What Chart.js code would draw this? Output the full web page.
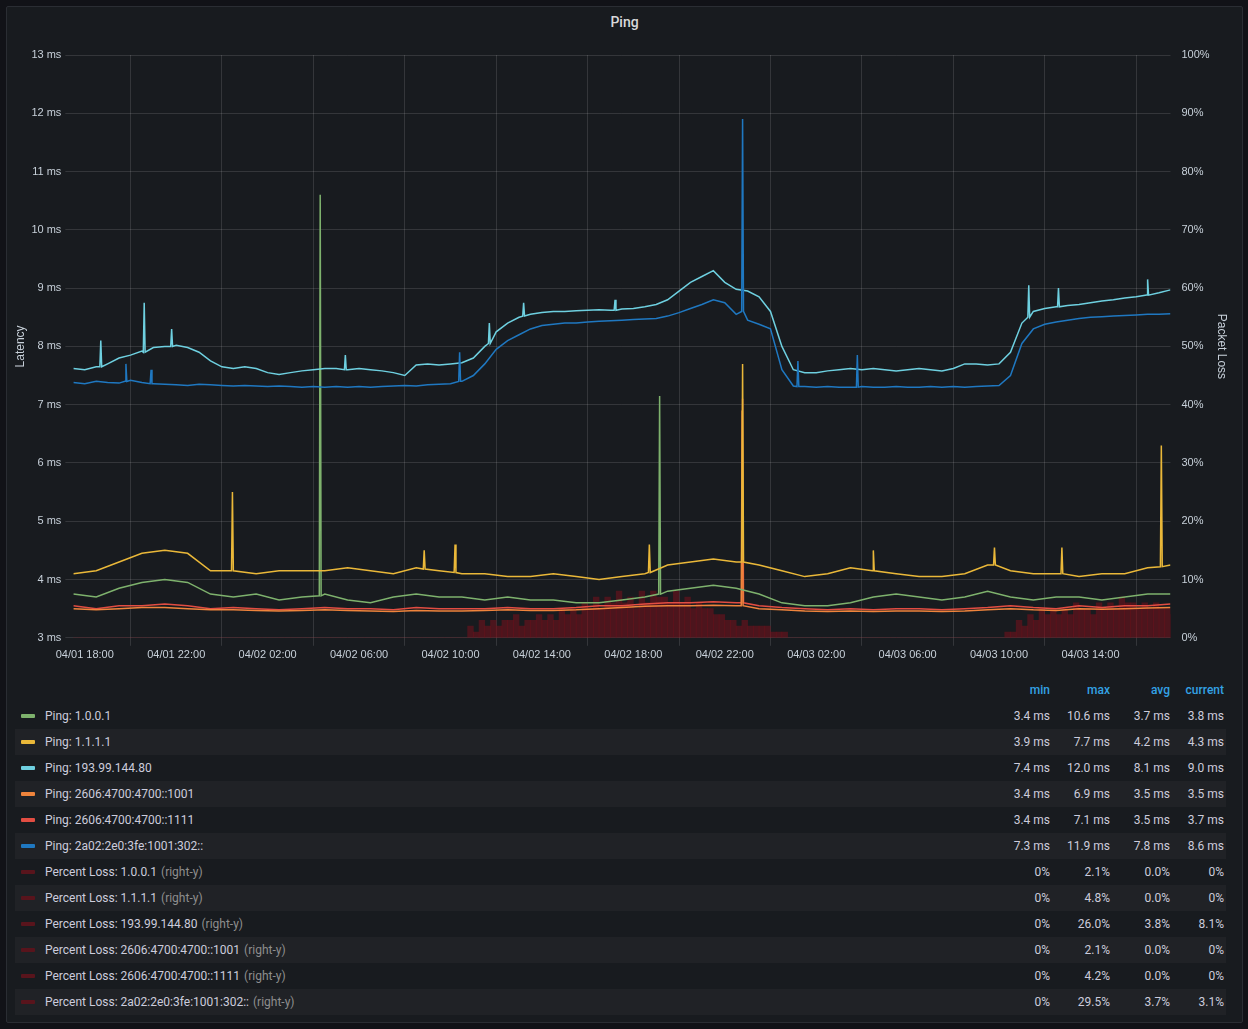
<!DOCTYPE html>
<html><head><meta charset="utf-8">
<script src="https://cdn.jsdelivr.net/npm/chart.js@4"></script>
<style>
body{margin:0;background:#111217;font-family:Roboto,"Noto Sans",sans-serif;color:#ccccdc;}
#panel{position:absolute;left:6px;top:6px;width:1235px;height:1015px;background:#181b1f;border:1px solid #2a2d33;border-radius:2px;}
#title{position:absolute;top:7px;width:100%;text-align:center;font-size:14px;font-weight:500;color:#d8d9da;}
#wrap{position:absolute;left:0;top:32px;width:1235px;height:632px;}
#legend{position:absolute;left:8px;top:670px;width:1211px;font-size:12px;}
.row{display:flex;height:26px;align-items:center;}
.row.alt{background:#202226;}
.name{flex:1;display:flex;align-items:center;}
.sw{width:14px;height:4px;border-radius:1px;margin:0 10px 0 6px;}
.c{width:60px;text-align:right;}
.c.cur{width:54px;padding-right:2px;}
.hd .c{color:#33a2e5;font-weight:500;}
.dim{color:#8e8e8e;margin-left:4px;}
</style></head><body>
<div id="panel"><div id="title">Ping</div><div id="wrap"><canvas id="cv"></canvas></div><div id="legend"></div></div>
<script>
// hours since 04/01 00:00
const blue30=[7.38,7.36,7.40,7.38,7.37,7.42,7.38,7.36,7.35,7.34,7.33,7.35,7.34,7.33,7.32,7.33,7.32,7.31,7.32,7.31,7.30,7.31,7.30,7.31,7.30,7.31,7.30,7.31,7.32,7.33,7.32,7.34,7.35,7.36,7.40,7.50,7.70,7.95,8.10,8.20,8.30,8.36,8.38,8.40,8.40,8.42,8.43,8.44,8.45,8.46,8.47,8.48,8.52,8.58,8.65,8.72,8.80,8.75,8.55,8.45,8.38,8.30,7.60,7.32,7.31,7.30,7.31,7.30,7.30,7.31,7.30,7.30,7.31,7.30,7.30,7.31,7.30,7.31,7.30,7.31,7.32,7.33,7.50,8.05,8.30,8.38,8.42,8.45,8.48,8.50,8.51,8.52,8.53,8.54,8.55,8.55,8.56];
const cyan30=[7.62,7.60,7.65,7.70,7.80,7.85,7.92,7.98,8.00,8.02,7.98,7.90,7.75,7.65,7.62,7.65,7.62,7.55,7.52,7.55,7.58,7.60,7.62,7.62,7.60,7.62,7.60,7.58,7.55,7.50,7.68,7.70,7.68,7.70,7.72,7.80,8.00,8.25,8.40,8.50,8.55,8.58,8.60,8.60,8.61,8.62,8.63,8.62,8.64,8.65,8.68,8.72,8.80,8.95,9.10,9.20,9.30,9.10,8.98,8.95,8.85,8.60,8.00,7.60,7.55,7.55,7.58,7.60,7.62,7.60,7.62,7.60,7.58,7.60,7.62,7.60,7.58,7.62,7.70,7.70,7.68,7.70,7.90,8.40,8.60,8.65,8.68,8.70,8.72,8.75,8.78,8.80,8.83,8.85,8.88,8.92,8.97];
const yellow60=[4.10,4.15,4.30,4.45,4.50,4.45,4.15,4.15,4.10,4.15,4.15,4.15,4.20,4.15,4.10,4.20,4.15,4.10,4.10,4.05,4.05,4.10,4.05,4.00,4.05,4.10,4.25,4.30,4.35,4.30,4.25,4.15,4.05,4.10,4.20,4.15,4.10,4.05,4.05,4.10,4.25,4.15,4.10,4.10,4.05,4.10,4.10,4.20,4.25];
const green60=[3.75,3.70,3.85,3.95,4.00,3.95,3.75,3.70,3.75,3.65,3.70,3.75,3.65,3.60,3.70,3.75,3.70,3.70,3.65,3.70,3.65,3.65,3.60,3.60,3.65,3.70,3.80,3.85,3.90,3.85,3.75,3.60,3.55,3.55,3.60,3.70,3.75,3.70,3.65,3.70,3.80,3.70,3.65,3.70,3.70,3.65,3.70,3.75,3.75];
const red60=[3.55,3.50,3.55,3.55,3.58,3.55,3.50,3.52,3.50,3.48,3.50,3.52,3.50,3.50,3.48,3.52,3.50,3.50,3.50,3.52,3.50,3.50,3.52,3.55,3.55,3.58,3.60,3.60,3.62,3.60,3.55,3.52,3.50,3.48,3.50,3.48,3.50,3.50,3.48,3.50,3.52,3.55,3.52,3.50,3.55,3.52,3.55,3.55,3.58];
const orange60=[3.50,3.48,3.50,3.52,3.52,3.50,3.48,3.48,3.47,3.46,3.47,3.48,3.47,3.46,3.45,3.47,3.46,3.46,3.47,3.48,3.47,3.47,3.48,3.50,3.52,3.54,3.55,3.55,3.56,3.55,3.50,3.48,3.46,3.45,3.46,3.45,3.46,3.46,3.45,3.46,3.48,3.50,3.48,3.47,3.50,3.49,3.50,3.51,3.52];
// spikes: [hour, peak, base]
const blueSpikes=[[19.8,7.7,7.4],[20.9,7.6,7.36],[34.4,7.9,7.4],[46.78,11.9,8.6],[49.2,7.75,7.31],[51.8,7.85,7.3]];
const cyanSpikes=[[18.7,8.1,7.65],[20.6,8.75,7.9],[21.8,8.3,8.0],[29.4,7.85,7.6],[35.7,8.4,8.05],[37.2,8.75,8.52],[41.2,8.8,8.62],[59.3,9.05,8.5],[60.6,9.0,8.68],[64.5,9.15,8.88]];
const yellowSpikes=[[24.46,5.5,4.15],[32.85,4.5,4.18],[34.2,4.6,4.12],[42.7,4.6,4.12],[46.78,7.7,4.3],[52.5,4.5,4.15],[57.8,4.55,4.25],[60.75,4.55,4.1],[65.1,6.3,4.22]];
const greenSpikes=[[28.3,10.6,3.72],[43.15,7.15,3.75]];
const redSpikes=[[46.78,7.1,3.6]];
const orangeSpikes=[[46.76,6.9,3.55]];
const loss193=[0,0,0,0,0,0,0,0,0,0,0,0,0,0,0,0,0,0,0,0,0,0,0,0,0,0,0,0,0,0,0,0,0,0,0,2,3,3,3,4,3,4,4,5,5,6,7,7,8,7,8,8,7,8,7,6,5,4,3,3,2,2,1,0,0,0,0,0,0,0,0,0,0,0,0,0,0,0,0,0,0,0,1,3,4,5,5,5,6,5,6,6,7,6,6,6,5];
const loss2a02=[0,0,0,0,0,0,0,0,0,0,0,0,0,0,0,0,0,0,0,0,0,0,0,0,0,0,0,0,0,0,0,0,0,0,0,1,2,2,3,2,3,3,3,4,4,5,5,6,6,5,6,7,6,6,5,5,4,3,2,2,2,1,1,0,0,0,0,0,0,0,0,0,0,0,0,0,0,0,0,0,0,0,1,2,3,4,4,4,5,4,5,5,6,5,5,5,4];
const xTicks=[18,22,26,30,34,38,42,46,50,54,58,62];

const t30=blue30.map((_,i)=>17.5+0.5*i), t60=yellow60.map((_,i)=>17.5+i);
function series(ts,vs,sp){
  const pts=ts.map((t,i)=>({x:t,y:vs[i]}));
  sp.forEach(s=>{pts.push({x:s[0]-0.04,y:s[2]},{x:s[0],y:s[1]},{x:s[0]+0.04,y:s[2]});});
  return pts.sort((a,b)=>a.x-b.x);
}
function lbl(h){const d=1+Math.floor(h/24), hh=h%24;return '04/0'+d+' '+String(hh).padStart(2,'0')+':00';}
const line=(label,c,d)=>({type:'line',label,data:d,borderColor:c,backgroundColor:c,borderWidth:1.5,pointRadius:0,tension:0,yAxisID:'y'});
const bar=(label,d)=>({type:'bar',label,data:t30.map((t,i)=>({x:t,y:d[i]})),backgroundColor:'rgba(120,16,28,0.55)',barPercentage:1,categoryPercentage:1,yAxisID:'y1'});
new Chart(document.getElementById('cv'),{
  data:{datasets:[
    line('Ping: 2a02:2e0:3fe:1001:302::','#1F78C1',series(t30,blue30,blueSpikes)),
    line('Ping: 193.99.144.80','#6ED0E0',series(t30,cyan30,cyanSpikes)),
    line('Ping: 1.1.1.1','#EAB839',series(t60,yellow60,yellowSpikes)),
    line('Ping: 1.0.0.1','#7EB26D',series(t60,green60,greenSpikes)),
    line('Ping: 2606:4700:4700::1001','#EF843C',series(t60,orange60,orangeSpikes)),
    line('Ping: 2606:4700:4700::1111','#E24D42',series(t60,red60,redSpikes)),
    bar('Percent Loss: 193.99.144.80',loss193),
    bar('Percent Loss: 2a02:2e0:3fe:1001:302::',loss2a02)
  ]},
  options:{responsive:true,maintainAspectRatio:false,animation:false,
    layout:{padding:{left:6,right:11,top:16,bottom:6}},
    plugins:{legend:{display:false},tooltip:{enabled:false}},
    scales:{
      x:{type:'linear',min:17.5,max:65.5,offset:false,
        afterBuildTicks:a=>{a.ticks=xTicks.map(v=>({value:v}));},
        ticks:{callback:v=>lbl(v),color:'#c7d0d9',font:{size:11},maxRotation:0,autoSkip:false},
        grid:{color:'rgba(255,255,255,0.12)'},border:{display:false}},
      y:{position:'left',min:3,max:13,ticks:{stepSize:1,callback:v=>v+' ms',color:'#c7d0d9',font:{size:11},padding:4},
        grid:{color:'rgba(255,255,255,0.12)'},border:{display:false},
        title:{display:true,text:'Latency',color:'#c7d0d9',font:{size:12},padding:0}},
      y1:{position:'right',min:0,max:100,ticks:{stepSize:10,callback:v=>v+'%',color:'#c7d0d9',font:{size:11}},
        grid:{display:false},border:{display:false},
        title:{display:true,text:'Packet Loss',color:'#c7d0d9',font:{size:12},padding:2}}
    }}
});
const legRows=[
 ['Ping: 1.0.0.1','#7EB26D','','3.4 ms','10.6 ms','3.7 ms','3.8 ms'],
 ['Ping: 1.1.1.1','#EAB839','','3.9 ms','7.7 ms','4.2 ms','4.3 ms'],
 ['Ping: 193.99.144.80','#6ED0E0','','7.4 ms','12.0 ms','8.1 ms','9.0 ms'],
 ['Ping: 2606:4700:4700::1001','#EF843C','','3.4 ms','6.9 ms','3.5 ms','3.5 ms'],
 ['Ping: 2606:4700:4700::1111','#E24D42','','3.4 ms','7.1 ms','3.5 ms','3.7 ms'],
 ['Ping: 2a02:2e0:3fe:1001:302::','#1F78C1','','7.3 ms','11.9 ms','7.8 ms','8.6 ms'],
 ['Percent Loss: 1.0.0.1','#58141c','(right-y)','0%','2.1%','0.0%','0%'],
 ['Percent Loss: 1.1.1.1','#58141c','(right-y)','0%','4.8%','0.0%','0%'],
 ['Percent Loss: 193.99.144.80','#58141c','(right-y)','0%','26.0%','3.8%','8.1%'],
 ['Percent Loss: 2606:4700:4700::1001','#58141c','(right-y)','0%','2.1%','0.0%','0%'],
 ['Percent Loss: 2606:4700:4700::1111','#58141c','(right-y)','0%','4.2%','0.0%','0%'],
 ['Percent Loss: 2a02:2e0:3fe:1001:302::','#58141c','(right-y)','0%','29.5%','3.7%','3.1%']];
let h='<div class="row hd"><div class="name"></div><div class="c">min</div><div class="c">max</div><div class="c">avg</div><div class="c cur">current</div></div>';
legRows.forEach((r,i)=>{h+='<div class="row'+(i%2?' alt':'')+'"><div class="name"><div class="sw" style="background:'+r[1]+'"></div>'+r[0]+(r[2]?'<span class="dim">'+r[2]+'</span>':'')+'</div><div class="c">'+r[3]+'</div><div class="c">'+r[4]+'</div><div class="c">'+r[5]+'</div><div class="c cur">'+r[6]+'</div></div>';});
document.getElementById('legend').innerHTML=h;
</script></body></html>
